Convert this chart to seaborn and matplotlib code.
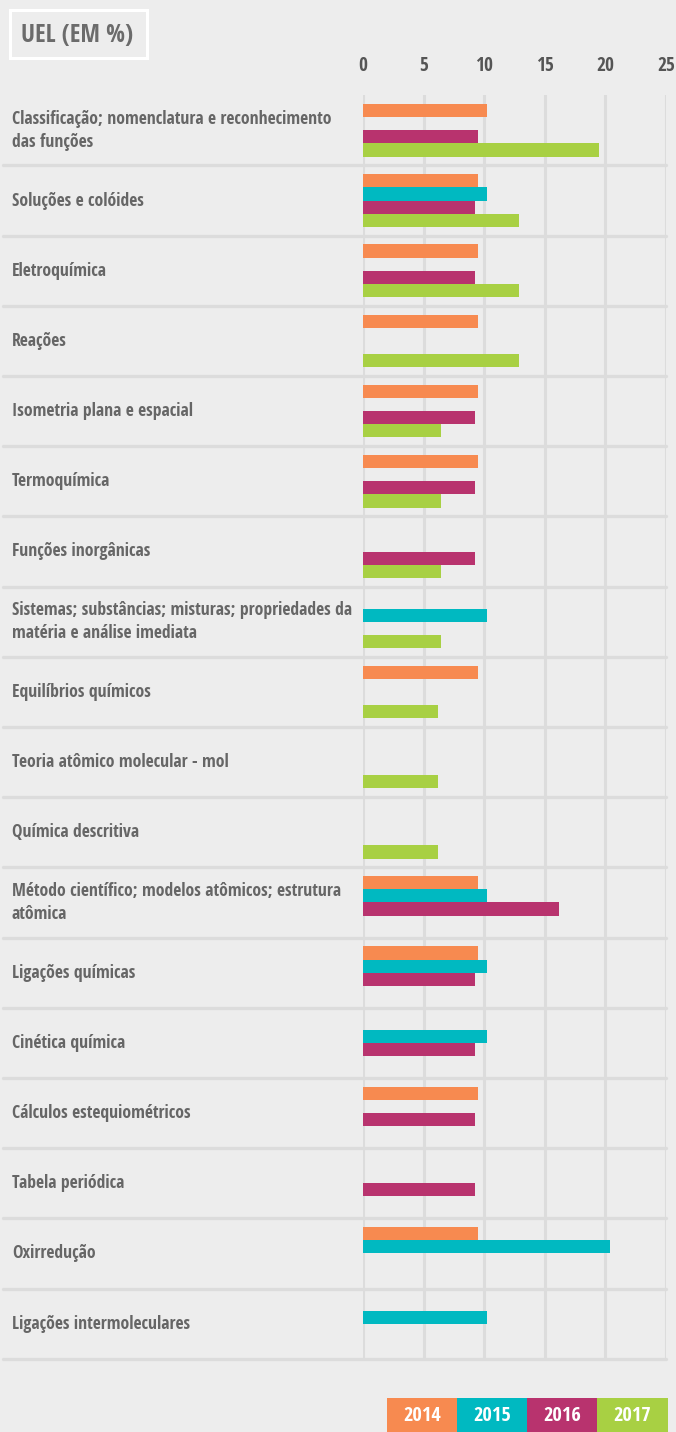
import matplotlib
matplotlib.use("Agg")
import matplotlib.pyplot as plt
from matplotlib import font_manager
from matplotlib.font_manager import FontProperties
from matplotlib.ft2font import FT2Font
import seaborn as sns
import pandas as pd
import numpy as np

categories = [
    "Classificação; nomenclatura e reconhecimento\ndas funções",
    "Soluções e colóides",
    "Eletroquímica",
    "Reações",
    "Isometria plana e espacial",
    "Termoquímica",
    "Funções inorgânicas",
    "Sistemas; substâncias; misturas; propriedades da\nmatéria e análise imediata",
    "Equilíbrios químicos",
    "Teoria atômico molecular - mol",
    "Química descritiva",
    "Método científico; modelos atômicos; estrutura\natômica",
    "Ligações químicas",
    "Cinética química",
    "Cálculos estequiométricos",
    "Tabela periódica",
    "Oxirredução",
    "Ligações intermoleculares",
]
years = ["2014", "2015", "2016", "2017"]
v2014 = [10.2, 9.5, 9.5, 9.5, 9.5, 9.5, None, None, 9.5, None, None, 9.5, 9.5, None, 9.5, None, 9.5, None]
v2015 = [None, 10.2, None, None, None, None, None, 10.2, None, None, None, 10.2, 10.2, 10.2, None, None, 20.4, 10.2]
v2016 = [9.5, 9.2, 9.2, None, 9.2, 9.2, 9.2, None, None, None, None, 16.2, 9.2, 9.2, 9.2, 9.2, None, None]
v2017 = [19.5, 12.9, 12.9, 12.9, 6.4, 6.4, 6.4, 6.4, 6.2, 6.2, 6.2, None, None, None, None, None, None, None]
xticks = [0, 5, 10, 15, 20, 25]
title = "UEL (EM %)"
colors = ["#f78a50", "#00b9c1", "#b8336e", "#a8d043"]

rows = []
for yr, vals in zip(years, [v2014, v2015, v2016, v2017]):
    for cat, v in zip(categories, vals):
        if v is not None:
            rows.append({"cat": cat, "year": yr, "val": v})
df = pd.DataFrame(rows)

sns.set_theme(style="white")
plt.rcParams["font.family"] = ["DejaVu Sans"]

BG = "#ededed"
GRID = "#dcdcdc"
TXT = "#666666"

fig = plt.figure(figsize=(6.76, 14.32), dpi=100, facecolor=BG)
renderer = fig.canvas.get_renderer()

# choose the narrowest bold upright sans face (from the known families) with every glyph
allowed = ("dejavu sans", "liberation sans", "noto sans", "roboto", "open sans", "lato", "inter")
needed = set("".join(categories) + title + "".join(years) + "0123456789") - {"\n"}
needed_cp = {ord(c) for c in needed}
sample = "Sistemas; substâncias; misturas; propriedades da"
cands = set()
for f in font_manager.fontManager.ttflist:
    fn = f.fname.lower()
    nm = f.name.lower()
    if not nm.startswith(allowed):
        continue
    if "mono" in nm or "cjk" in nm or "cjk" in fn or "mono" in fn or "serif" in nm:
        continue
    if f.style != "normal" or "italic" in fn or "oblique" in fn:
        continue
    w = f.weight if isinstance(f.weight, int) else 400
    if w < 600 or w > 800:
        continue
    if not fn.endswith((".ttf", ".otf")):
        continue
    cands.add(f.fname)
best_fp, best_ratio = None, None
for path in sorted(cands):
    try:
        cmap = FT2Font(path).get_charmap()
        if not needed_cp.issubset(set(cmap.keys())):
            continue
        fp = FontProperties(fname=path, size=12)
        t = fig.text(0, 0, sample, fontproperties=fp)
        bb = t.get_window_extent(renderer)
        t.remove()
        ratio = bb.width / 12.0
        if best_ratio is None or ratio < best_ratio:
            best_ratio, best_fp = ratio, path
    except Exception:
        continue

def fprops(size):
    if best_fp:
        return FontProperties(fname=best_fp, size=size)
    return FontProperties(family="DejaVu Sans", weight="bold", size=size)

ax = fig.add_axes([363 / 676, 1 - 1358.8 / 1432, 303 / 676, (1358.8 - 95.2) / 1432])
ax.set_facecolor(BG)

sns.barplot(data=df, y="cat", x="val", hue="year", order=categories, hue_order=years,
            palette=colors, orient="h", width=0.75, dodge=True, ax=ax, legend=False,
            saturation=1, linewidth=0, zorder=3)

ax.set_xlim(0, 25)
ax.set_ylim(len(categories) - 0.5, -0.5)
ax.set_xticks(xticks)
ax.set_xticklabels([str(t) for t in xticks])
ax.xaxis.tick_top()
ax.tick_params(axis="x", length=0, pad=14)
ax.set_yticks([])
ax.set_xlabel("")
ax.set_ylabel("")
for s in ax.spines.values():
    s.set_visible(False)
for t in xticks:
    ax.axvline(t, color=GRID, lw=2.2, zorder=1)
for i in range(len(categories)):
    ax.axhline(i + 0.5, xmin=(3 - 363) / 303, xmax=1.0, color=GRID, lw=2.4,
               clip_on=False, zorder=1)

def fit_size(text_obj, target_w, base, max_size):
    text_obj.set_fontproperties(fprops(base))
    w = text_obj.get_window_extent(renderer).width
    size = min(max_size, base * target_w / w)
    text_obj.set_fontproperties(fprops(size))
    return size

# category labels
probe = fig.text(0, 0, sample)
lab_size = fit_size(probe, 340, 12, 14.5)
probe.set_text("A")
h1 = probe.get_window_extent(renderer).height
probe.set_linespacing(1.0)
probe.set_text("A\nA")
h2 = probe.get_window_extent(renderer).height
probe.remove()
gap1 = h2 - h1
lsp = 24.5 / gap1 if gap1 > 0 else 1.8

trans = matplotlib.transforms.blended_transform_factory(fig.transFigure, ax.transData)
for i, cat in enumerate(categories):
    t = ax.text(12 / 676, i, cat, transform=trans, ha="left", va="center",
                color=TXT, linespacing=lsp)
    t.set_fontproperties(fprops(lab_size))

# tick labels
probe = fig.text(0, 0, "10")
tick_size = fit_size(probe, 18, 14, 17)
probe.remove()
for lab in ax.get_xticklabels():
    lab.set_fontproperties(fprops(tick_size))
    lab.set_color("#555555")

# title box
fig.patches.append(matplotlib.patches.Rectangle((10 / 676, 1 - 58 / 1432), 137 / 676, 48 / 1432,
                   transform=fig.transFigure, facecolor="none", edgecolor="white", lw=2.2))
tt = fig.text(21 / 676, 1 - 35 / 1432, title, ha="left", va="center", color="#6b6b6b")
fit_size(tt, 112, 16, 19)

# legend boxes
lx = [387, 457, 527, 597]
for x0, yr, c in zip(lx, years, colors):
    fig.patches.append(matplotlib.patches.Rectangle((x0 / 676, 0), 71 / 676, 34 / 1432,
                       transform=fig.transFigure, facecolor=c, edgecolor="none"))
    lt = fig.text((x0 + 35) / 676, 16 / 1432, yr, ha="center", va="center", color="white")
    fit_size(lt, 38, 14, 16)

fig.savefig("out.png", dpi=100, facecolor=BG)
